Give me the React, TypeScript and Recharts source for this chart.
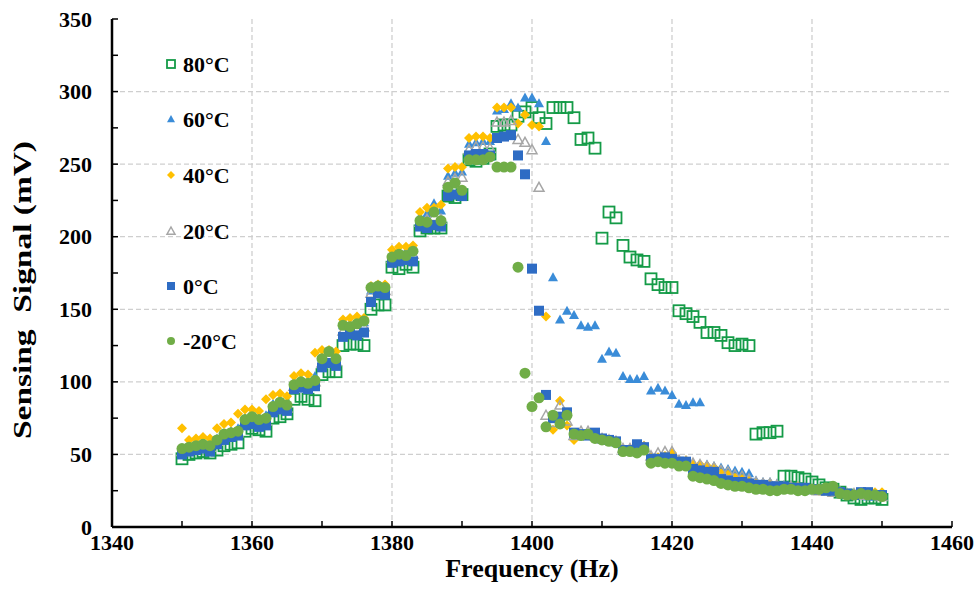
import { ScatterChart, Scatter, XAxis, YAxis, CartesianGrid } from 'recharts';

// frequency steps (Hz)
const FREQS = [
  1350, 1351, 1352, 1353, 1354, 1355, 1356, 1357, 1358, 1359,
  1360, 1361, 1362, 1363, 1364, 1365, 1366, 1367, 1368, 1369,
  1370, 1371, 1372, 1373, 1374, 1375, 1376, 1377, 1378, 1379,
  1380, 1381, 1382, 1383, 1384, 1385, 1386, 1387, 1388, 1389,
  1390, 1391, 1392, 1393, 1394, 1395, 1396, 1397, 1398, 1399,
  1400, 1401, 1402, 1403, 1404, 1405, 1406, 1407, 1408, 1409,
  1410, 1411, 1412, 1413, 1414, 1415, 1416, 1417, 1418, 1419,
  1420, 1421, 1422, 1423, 1424, 1425, 1426, 1427, 1428, 1429,
  1430, 1431, 1432, 1433, 1434, 1435, 1436, 1437, 1438, 1439,
  1440, 1441, 1442, 1443, 1444, 1445, 1446, 1447, 1448, 1449,
  1450,
];

// sensing signal (mV) per temperature
const S80 = [
  47, 50, 51, 52, 51, 53, 56, 57, 58, 66,
  68, 67, 66, 75, 76, 78, 88, 90, 88, 87,
  105, 107, 107, 125, 126, 126, 125, 150, 153, 153,
  179, 178, 181, 179, 204, 206, 206, 206, 228, 227,
  229, 253, 252, 254, 257, 276, 277, 277, 283, 286,
  289, 282, 278, 289, 289, 289, 282, 267, 268, 261,
  199, 217, 213, 194, 186, 184, 183, 171, 167, 165,
  165, 149, 147, 145, 141, 134, 134, 132, 127, 125,
  126, 125, 64, 65, 65, 66, 35, 35, 34, 33,
  31, 29, 27, 26, 24, 22, 20, 19, 20, 20,
  19,
];
const S60 = [
  53, 55, 57, 58, 57, 61, 64, 66, 68, 75,
  76, 75, 77, 85, 87, 86, 100, 101, 100, 104,
  117, 120, 118, 139, 140, 141, 141, 163, 165, 165,
  188, 190, 190, 191, 214, 216, 223, 218, 242, 244,
  245, 264, 265, 266, 266, 287, 288, 292, 289, 296,
  296, 292, 266, 172, 143, 149, 146, 139, 138, 139,
  116, 121, 120, 104, 102, 102, 104, 94, 96, 94,
  91, 85, 84, 86, 86, 43, 42, 41, 40, 39,
  38, 37, 32, 31, 31, 30, 29, 28, 28, 27,
  26, 25, 25, 25, 24, 23, 22, 22, 21, 21,
  21,
];
const S40 = [
  68, 60, 61, 62, 61, 68, 71, 72, 78, 81,
  81, 80, 88, 91, 92, 90, 104, 106, 105, 120,
  122, 122, 121, 143, 144, 145, 144, 166, 167, 167,
  191, 193, 193, 194, 217, 220, 220, 222, 247, 248,
  248, 268, 269, 269, 268, 289, 289, 289, 278, 284,
  277, 276, 145, 67, 87, 70, 60, 63, 64, 62,
  60, 59, 59, 53, 54, 55, 56, 48, 48, 49,
  51, 46, 46, 43, 43, 42, 41, 37, 36, 34,
  33, 32, 30, 29, 30, 29, 28, 27, 28, 27,
  26, 25, 26, 25, 24, 23, 22, 23, 22, 24,
  24,
];
const S20 = [
  52, 54, 55, 56, 55, 59, 62, 63, 65, 72,
  73, 72, 73, 81, 83, 82, 97, 98, 97, 100,
  113, 117, 114, 135, 136, 137, 138, 161, 163, 163,
  185, 187, 187, 188, 210, 212, 214, 212, 238, 240,
  241, 260, 262, 262, 261, 279, 279, 280, 267, 265,
  260, 234, 77, 72, 84, 73, 63, 66, 66, 63,
  61, 60, 59, 54, 54, 55, 55, 49, 51, 52,
  52, 46, 45, 44, 43, 42, 41, 39, 38, 36,
  35, 33, 31, 30, 30, 29, 28, 28, 27, 27,
  26, 25, 25, 24, 24, 23, 23, 22, 22, 22,
  21,
];
const S0 = [
  50, 52, 53, 54, 52, 57, 60, 62, 63, 70,
  71, 69, 70, 79, 81, 80, 95, 96, 95, 97,
  110, 113, 111, 131, 133, 132, 134, 155, 161, 160,
  182, 183, 184, 183, 207, 206, 208, 207, 228, 229,
  228, 256, 257, 257, 256, 268, 269, 270, 256, 243,
  178, 149, 91, 75, 76, 79, 65, 64, 63, 65,
  61, 60, 59, 53, 53, 57, 55, 47, 47, 48,
  47, 45, 45, 40, 39, 38, 38, 33, 32, 31,
  31, 30, 29, 29, 28, 28, 28, 27, 27, 27,
  26, 26, 25, 25, 24, 23, 22, 24, 24, 22,
  22,
];
const SM20 = [
  54, 55, 56, 57, 56, 60, 64, 65, 66, 74,
  76, 74, 75, 83, 86, 84, 98, 100, 99, 101,
  116, 121, 116, 139, 138, 140, 142, 165, 166, 165,
  186, 188, 187, 190, 211, 210, 217, 211, 234, 237,
  232, 253, 253, 253, 255, 248, 248, 248, 179, 106,
  83, 89, 69, 77, 71, 77, 64, 63, 64, 61,
  60, 59, 58, 52, 52, 51, 53, 44, 45, 44,
  44, 42, 42, 35, 34, 33, 32, 30, 29, 28,
  28, 27, 26, 26, 25, 25, 26, 26, 25, 25,
  26, 26, 27, 28, 23, 22, 22, 23, 22, 22,
  21,
];

const X_TICKS = [1340, 1350, 1360, 1370, 1380, 1390, 1400, 1410, 1420, 1430, 1440, 1450, 1460];
const Y_TICKS = [0, 25, 50, 75, 100, 125, 150, 175, 200, 225, 250, 275, 300, 325, 350];

const FONT = '"Liberation Serif", "Times New Roman", serif';

function OpenSquare({ cx, cy, size = 11 }: any) {
  const h = size / 2;
  return <rect x={cx - h} y={cy - h} width={size} height={size} fill="none" stroke="#149B47" strokeWidth={1.8} />;
}
function FilledTriangle({ cx, cy, size = 10 }: any) {
  const h = size / 2;
  return <polygon points={`${cx},${cy - h} ${cx + h},${cy + h * 0.8} ${cx - h},${cy + h * 0.8}`} fill="#3A8CD8" />;
}
function Diamond({ cx, cy, size = 10 }: any) {
  const h = size / 2;
  return <polygon points={`${cx},${cy - h} ${cx + h},${cy} ${cx},${cy + h} ${cx - h},${cy}`} fill="#FFC000" />;
}
function OpenTriangle({ cx, cy, size = 10 }: any) {
  const h = size / 2;
  return <polygon points={`${cx},${cy - h} ${cx + h},${cy + h * 0.8} ${cx - h},${cy + h * 0.8}`} fill="none" stroke="#A6A6A6" strokeWidth={1.5} />;
}
function FilledSquare({ cx, cy, size = 10 }: any) {
  const h = size / 2;
  return <rect x={cx - h} y={cy - h} width={size} height={size} fill="#2E6CC4" />;
}
function Circle({ cx, cy, size = 11 }: any) {
  return <circle cx={cx} cy={cy} r={size / 2} fill="#70AD47" />;
}

const SERIES = [
  { name: '80°C', values: S80, Shape: OpenSquare },
  { name: '60°C', values: S60, Shape: FilledTriangle },
  { name: '40°C', values: S40, Shape: Diamond },
  { name: '20°C', values: S20, Shape: OpenTriangle },
  { name: '0°C', values: S0, Shape: FilledSquare },
  { name: '-20°C', values: SM20, Shape: Circle },
];

function XTick({ x, y, payload }: any) {
  const v = payload.value;
  return (
    <g>
      <line x1={x} x2={x} y1={y} y2={y - 6} stroke="#000" strokeWidth={1.5} />
      {v % 20 === 0 && (
        <text x={x} y={y + 15} textAnchor="middle" dominantBaseline="central"
          style={{ fontFamily: FONT, fontSize: 22, fontWeight: 700 }} fill="#000">
          {v}
        </text>
      )}
    </g>
  );
}

function YTick({ x, y, payload }: any) {
  const v = payload.value;
  return (
    <g>
      <line x1={x} x2={x + 6} y1={y} y2={y} stroke="#000" strokeWidth={1.5} />
      {v % 50 === 0 && (
        <text x={x - 20} y={y} textAnchor="end" dominantBaseline="central"
          style={{ fontFamily: FONT, fontSize: 22, fontWeight: 700 }} fill="#000">
          {v}
        </text>
      )}
    </g>
  );
}

export default function App() {
  return (
    <div style={{ position: 'absolute', left: 0, top: 0, width: 976, height: 602, background: '#fff' }}>
      <ScatterChart width={976} height={602} margin={{ top: 19, right: 24, bottom: 0, left: 0 }}>
        <CartesianGrid
          stroke="#CFCFCF"
          strokeWidth={1.3}
          strokeDasharray="5 3"
          horizontalValues={[50, 100, 150, 200, 250, 300]}
          verticalValues={[1360, 1380, 1400, 1420, 1440]}
        />
        <XAxis
          dataKey="x"
          type="number"
          domain={[1340, 1460]}
          ticks={X_TICKS}
          interval={0}
          height={75}
          tickSize={0}
          tickMargin={0}
          tickLine={false}
          tick={<XTick />}
          axisLine={{ stroke: '#000', strokeWidth: 2.5 }}
          label={{
            content: () => (
              <text x={532} y={577} textAnchor="middle"
                style={{ fontFamily: FONT, fontSize: 26, fontWeight: 700 }} fill="#000">
                Frequency (Hz)
              </text>
            ),
          }}
        />
        <XAxis xAxisId="top" type="number" orientation="top" domain={[1340, 1460]} height={0}
          tick={false} tickLine={false} axisLine={{ stroke: '#000', strokeWidth: 2.5 }} />
        <YAxis
          dataKey="y"
          type="number"
          domain={[0, 350]}
          ticks={Y_TICKS}
          interval={0}
          width={112}
          tickSize={0}
          tickMargin={0}
          tickLine={false}
          tick={<YTick />}
          axisLine={{ stroke: '#000', strokeWidth: 2.5 }}
          label={{
            content: () => (
              <text x={31} y={290} transform="rotate(-90 31 290)" textAnchor="middle"
                textLength={298} lengthAdjust="spacingAndGlyphs"
                style={{ fontFamily: FONT, fontSize: 26, fontWeight: 700, whiteSpace: 'pre' }} fill="#000">
                {'Sensing  Signal (mV)'}
              </text>
            ),
          }}
        />
        <YAxis yAxisId="right" type="number" orientation="right" domain={[0, 350]} width={0}
          tick={false} tickLine={false} axisLine={{ stroke: '#000', strokeWidth: 2.5 }} />
        {SERIES.map((s) => (
          <Scatter
            key={s.name}
            name={s.name}
            data={FREQS.map((f, i) => ({ x: f, y: s.values[i] }))}
            isAnimationActive={false}
            shape={(p: any) => <s.Shape cx={p.cx} cy={p.cy} />}
          />
        ))}
      </ScatterChart>

      {/* Legend */}
      <svg width={976} height={602} style={{ position: 'absolute', left: 0, top: 0, pointerEvents: 'none' }}>
        {SERIES.map((s, i) => {
          const cy = [64, 119, 175, 231, 286, 341][i];
          return (
            <g key={s.name}>
              <s.Shape cx={171} cy={cy} size={8} />
              <text x={183} y={cy} dominantBaseline="central"
                style={{ fontFamily: FONT, fontSize: 22, fontWeight: 700 }} fill="#000">
                {s.name}
              </text>
            </g>
          );
        })}
      </svg>
    </div>
  );
}
